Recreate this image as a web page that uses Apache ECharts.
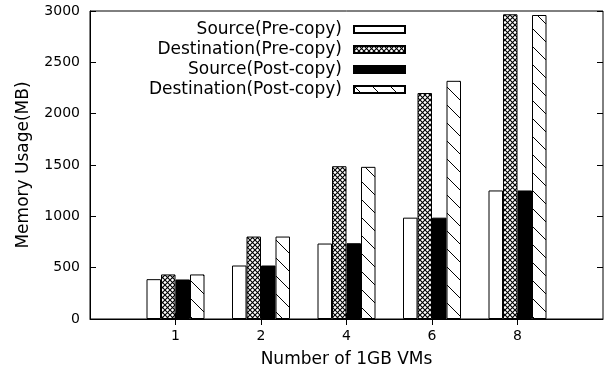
<!DOCTYPE html>
<html>
<head>
<meta charset="utf-8">
<script src="https://cdn.jsdelivr.net/npm/echarts@6/dist/echarts.min.js"></script>
<style>
  html, body { margin: 0; padding: 0; background: #fff; }
  #chart { width: 606px; height: 373px; }
</style>
</head>
<body>
<div id="chart"></div>
<script>
// data
var vmCounts = ['', '1', '2', '4', '6', '8', ''];
var srcPre = ['-', 388, 521, 735, 987, 1252, '-'];
var dstPre = ['-', 434, 803, 1488, 2201, 2968, '-'];
var srcPost = ['-', 385, 521, 738, 987, 1252, '-'];
var dstPost = ['-', 434, 803, 1482, 2320, 2961, '-'];
var seriesNames = ['Source(Pre-copy)', 'Destination(Pre-copy)', 'Source(Post-copy)', 'Destination(Post-copy)'];
var yTicks = { min: 0, max: 3000, step: 500 };

// fill patterns like gnuplot's
function crossHatch() {
  var c = document.createElement('canvas');
  c.width = 5; c.height = 5;
  var ctx = c.getContext('2d');
  ctx.fillStyle = '#fff';
  ctx.fillRect(0, 0, 5, 5);
  ctx.strokeStyle = '#000';
  ctx.lineWidth = 1.1;
  ctx.beginPath();
  ctx.moveTo(-1, -1); ctx.lineTo(6, 6);
  ctx.moveTo(6, -1); ctx.lineTo(-1, 6);
  ctx.stroke();
  return c;
}
function diagLines() {
  var s = 18;
  var c = document.createElement('canvas');
  c.width = s; c.height = s;
  var ctx = c.getContext('2d');
  ctx.fillStyle = '#fff';
  ctx.fillRect(0, 0, s, s);
  ctx.strokeStyle = '#000';
  ctx.lineWidth = 1;
  ctx.beginPath();
  ctx.moveTo(0, 0); ctx.lineTo(s, s);
  ctx.moveTo(-s, 0); ctx.lineTo(s, 2 * s);
  ctx.moveTo(0, -s); ctx.lineTo(2 * s, s);
  ctx.stroke();
  return c;
}

var fills = [
  '#fff',
  { image: crossHatch(), repeat: 'repeat' },
  '#000',
  { image: diagLines(), repeat: 'repeat' }
];
var values = [srcPre, dstPre, srcPost, dstPost];

var chart = echarts.init(document.getElementById('chart'));
var font = 'DejaVu Sans';
var showTick = function (i) { return i > 0 && i < vmCounts.length - 1; };

var option = {
  animation: false,
  grid: { left: 90, top: 11, right: 0, bottom: 53, show: true, borderColor: '#000', borderWidth: 1 },
  legend: seriesNames.map(function (n, i) {
    return {
      data: [n],
      right: 200,
      top: 21 + i * 20,
      orient: 'vertical',
      align: 'right',
      padding: 0,
      icon: 'rect',
      itemWidth: 51,
      itemHeight: 7,
      selectedMode: false,
      textStyle: { fontFamily: font, fontSize: 17, color: '#000', padding: [0, 7, 0, 0] }
    };
  }),
  xAxis: [{
    type: 'category',
    data: vmCounts,
    boundaryGap: false,
    name: 'Number of 1GB VMs',
    nameLocation: 'middle',
    nameGap: 32,
    nameTextStyle: { fontFamily: font, fontSize: 17, color: '#000' },
    axisLine: { lineStyle: { color: '#000' } },
    axisTick: { inside: true, length: 6, interval: showTick, lineStyle: { color: '#000' } },
    axisLabel: { interval: 0, fontFamily: font, fontSize: 14, color: '#000', margin: 10 },
    splitLine: { show: false }
  }, {
    type: 'category',
    position: 'top',
    data: vmCounts,
    boundaryGap: false,
    axisLine: { show: false },
    axisTick: { inside: true, length: 6, interval: showTick, lineStyle: { color: '#000' } },
    axisLabel: { show: false },
    splitLine: { show: false }
  }],
  yAxis: [{
    type: 'value',
    min: yTicks.min,
    max: yTicks.max,
    interval: yTicks.step,
    name: 'Memory Usage(MB)',
    nameLocation: 'middle',
    nameGap: 58,
    nameTextStyle: { fontFamily: font, fontSize: 17, color: '#000' },
    axisLine: { show: true, lineStyle: { color: '#000' } },
    axisTick: { show: true, inside: true, length: 6, lineStyle: { color: '#000' } },
    axisLabel: { fontFamily: font, fontSize: 14, color: '#000', margin: 10, formatter: function (v) { return String(v); } },
    splitLine: { show: false }
  }, {
    type: 'value',
    position: 'right',
    min: yTicks.min,
    max: yTicks.max,
    interval: yTicks.step,
    axisLine: { show: false },
    axisTick: { show: true, inside: true, length: 6, lineStyle: { color: '#000' } },
    axisLabel: { show: false },
    splitLine: { show: false }
  }],
  series: seriesNames.map(function (n, i) {
    return {
      name: n,
      type: 'bar',
      data: values[i],
      barWidth: 14.5,
      barGap: '0%',
      itemStyle: { color: fills[i], borderColor: '#000', borderWidth: 1 }
    };
  })
};

chart.setOption(option);
window.addEventListener('resize', function () { chart.resize(); });
</script>
</body>
</html>
